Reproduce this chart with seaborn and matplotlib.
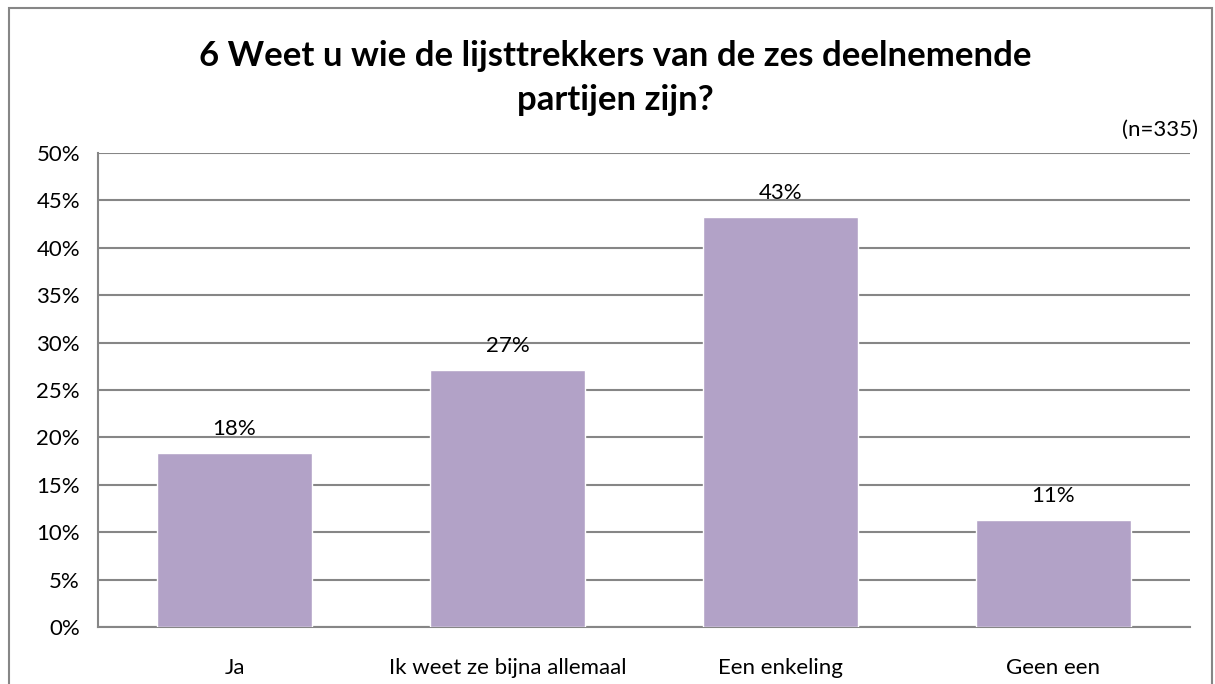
import matplotlib
matplotlib.use("Agg")
import matplotlib.pyplot as plt
import matplotlib.patches as patches
import seaborn as sns
import pandas as pd
import numpy as np

# data
categories = ["Ja", "Ik weet ze bijna allemaal", "Een enkeling", "Geen een"]
percentages = [18.4, 27.1, 43.3, 11.3]
bar_labels = ["18%", "27%", "43%", "11%"]
y_ticks = [0, 5, 10, 15, 20, 25, 30, 35, 40, 45, 50]

title = "6 Weet u wie de lijsttrekkers van de zes deelnemende\npartijen zijn?"
note = "(n=335)"

df = pd.DataFrame({"antwoord": categories, "pct": percentages})

sns.set_theme(style="white")
plt.rcParams['font.family'] = ['Lato', 'DejaVu Sans']
plt.rcParams['text.color'] = 'black'
plt.rcParams['xtick.color'] = 'black'
plt.rcParams['ytick.color'] = 'black'

bar_color = "#B2A2C7"
grid_color = "#868686"
fs = 16

fig = plt.figure(figsize=(12.15, 6.84), dpi=100)
ax = fig.add_axes([98 / 1215, 1 - 627 / 684, (1190 - 98) / 1215, (627 - 153) / 684])

sns.barplot(data=df, x="antwoord", y="pct", color=bar_color, width=0.57,
            saturation=1, ax=ax, zorder=3)

ax.set_xlim(-0.5, len(categories) - 0.5)
ax.set_ylim(0, 50)
ax.set_yticks(y_ticks)
ax.set_yticklabels([f"{t}%" for t in y_ticks], fontsize=fs)
ax.yaxis.grid(True, color=grid_color, linewidth=1.5, zorder=0)
ax.xaxis.grid(False)
ax.set_xlabel("")
ax.set_ylabel("")

# category labels without ticks, boundary ticks in between (Excel style)
ax.set_xticks(range(len(categories)))
ax.set_xticklabels(categories, fontsize=fs)
ax.tick_params(axis="x", which="major", length=0, pad=22, labelcolor="black")
ax.set_xticks(np.arange(-0.5, len(categories)), minor=True)
ax.tick_params(axis="x", which="minor", length=6, width=1.5, color=grid_color, direction="out")
ax.tick_params(axis="y", length=7, width=1.5, color=grid_color, direction="out", pad=6,
               labelcolor="black")

for side in ["top", "right"]:
    ax.spines[side].set_visible(False)
for side in ["left", "bottom"]:
    ax.spines[side].set_color(grid_color)
    ax.spines[side].set_linewidth(1.5)

for container in ax.containers:
    ax.bar_label(container, labels=bar_labels, padding=10, fontsize=fs, color="black")

fig.text(615 / 1215, 1 - 78 / 684, title, ha="center", va="center",
         fontsize=25, fontweight="bold", linespacing=1.45, color="black")
fig.text(1198 / 1215, 1 - 130 / 684, note, ha="right", va="center", fontsize=fs,
         color="black")

# outer chart border
fig.patches.append(patches.Rectangle((9 / 1215, -0.01), 1203 / 1215, 1 - 8 / 684 + 0.01,
                                     transform=fig.transFigure, fill=False,
                                     edgecolor=grid_color, linewidth=1.5))

fig.savefig("out.png", dpi=100)
